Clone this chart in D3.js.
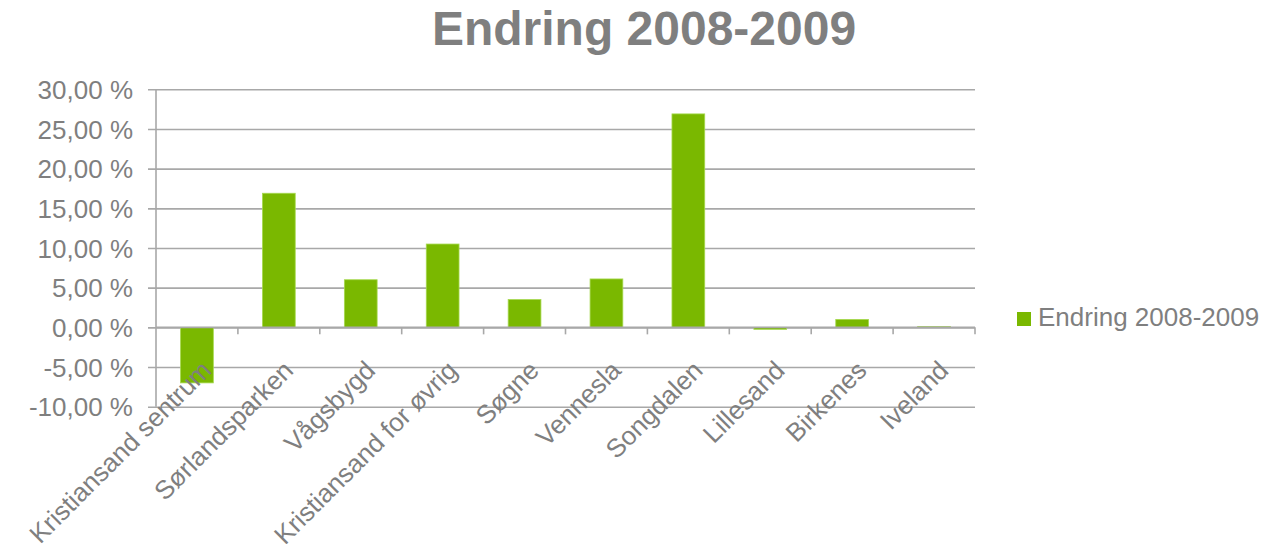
<!DOCTYPE html>
<html>
<head>
<meta charset="utf-8">
<script src="https://cdn.jsdelivr.net/npm/d3@7"></script>
<style>
  html, body { margin: 0; padding: 0; background: #ffffff; }
  svg { display: block; font-family: "Liberation Sans", Arial, sans-serif; }
</style>
</head>
<body>
<svg id="chart" width="1264" height="544"></svg>
<script>
// Change in percent per area, 2008 to 2009
const categories = [
  "Kristiansand sentrum", "Sørlandsparken", "Vågsbygd", "Kristiansand for øvrig",
  "Søgne", "Vennesla", "Songdalen", "Lillesand", "Birkenes", "Iveland"
];
const values = [-7.0, 16.9, 6.0, 10.5, 3.5, 6.1, 26.9, -0.25, 1.0, 0.1];
const yTicks = [-10, -5, 0, 5, 10, 15, 20, 25, 30];
const seriesName = "Endring 2008-2009";
const titleText = "Endring 2008-2009";

const svg = d3.select("#chart");
const plot = { left: 156, right: 975, top: 89.3, bottom: 406.7 };
const textGray = "#7f7f7f";
const gridGray = "#a8a8a8";
const barGreen = "#7ab800";

const x = d3.scaleBand()
  .domain(categories)
  .range([plot.left, plot.right])
  .paddingInner(0.6)
  .paddingOuter(0.3);

const y = d3.scaleLinear()
  .domain([-10, 30])
  .range([plot.bottom, plot.top]);

// Norwegian style: decimal comma, plain hyphen as minus sign
const nb = d3.formatLocale({
  decimal: ",", thousands: " ", grouping: [3], currency: ["", " kr"], minus: "-"
});
const fmt = v => nb.format(".2f")(v) + " %";

// Title
svg.append("text")
  .attr("x", 644).attr("y", 45)
  .attr("text-anchor", "middle")
  .attr("font-size", 48).attr("font-weight", "bold")
  .attr("fill", textGray)
  .text(titleText);

// Horizontal gridlines with y axis labels
const yAxis = d3.axisLeft(y)
  .tickValues(yTicks)
  .tickSize(-(plot.right - plot.left))
  .tickPadding(0)
  .tickFormat(fmt);

const gy = svg.append("g")
  .attr("transform", `translate(${plot.left},0)`)
  .call(yAxis);
gy.select(".domain").remove();
gy.selectAll(".tick line")
  .attr("x1", -8)
  .attr("stroke", gridGray).attr("stroke-width", 1.6);
gy.selectAll(".tick text")
  .attr("x", -23)
  .attr("dy", "0.35em")
  .attr("font-size", 26)
  .attr("fill", textGray)
  .attr("font-family", "Liberation Sans, Arial, sans-serif");

// Vertical value axis line
svg.append("line")
  .attr("x1", plot.left).attr("x2", plot.left)
  .attr("y1", plot.top).attr("y2", plot.bottom)
  .attr("stroke", gridGray).attr("stroke-width", 1.6);

// Bars
svg.append("g").selectAll("rect")
  .data(values)
  .join("rect")
  .attr("x", (d, i) => x(categories[i]))
  .attr("width", x.bandwidth())
  .attr("y", d => y(Math.max(0, d)))
  .attr("height", d => Math.abs(y(d) - y(0)))
  .attr("fill", barGreen)
  .attr("stroke", "#a6d94f")
  .attr("stroke-width", 0.8);

// Category axis along zero with tick marks between categories
const boundaries = categories.map((c, i) => plot.left + i * x.step()).concat([plot.right]);
const gx = svg.append("g");
gx.append("line")
  .attr("x1", plot.left).attr("x2", plot.right)
  .attr("y1", y(0)).attr("y2", y(0))
  .attr("stroke", gridGray).attr("stroke-width", 1.6);
gx.selectAll("line.tk")
  .data(boundaries.slice(1))
  .join("line")
  .attr("class", "tk")
  .attr("x1", d => d).attr("x2", d => d)
  .attr("y1", y(0)).attr("y2", y(0) + 7)
  .attr("stroke", gridGray).attr("stroke-width", 1.6);

// Rotated category labels
gx.selectAll("text")
  .data(categories)
  .join("text")
  .attr("transform", d => `translate(${x(d) + x.bandwidth() / 2 + 16},372) rotate(-45)`)
  .attr("text-anchor", "end")
  .attr("font-size", 26)
  .attr("fill", textGray)
  .text(d => d);

// Legend
const legend = svg.append("g").attr("transform", "translate(1017,312)");
legend.append("rect")
  .attr("width", 14).attr("height", 14)
  .attr("fill", barGreen);
legend.append("text")
  .attr("x", 21).attr("y", 14)
  .attr("font-size", 26)
  .attr("fill", textGray)
  .text(seriesName);
</script>
</body>
</html>
